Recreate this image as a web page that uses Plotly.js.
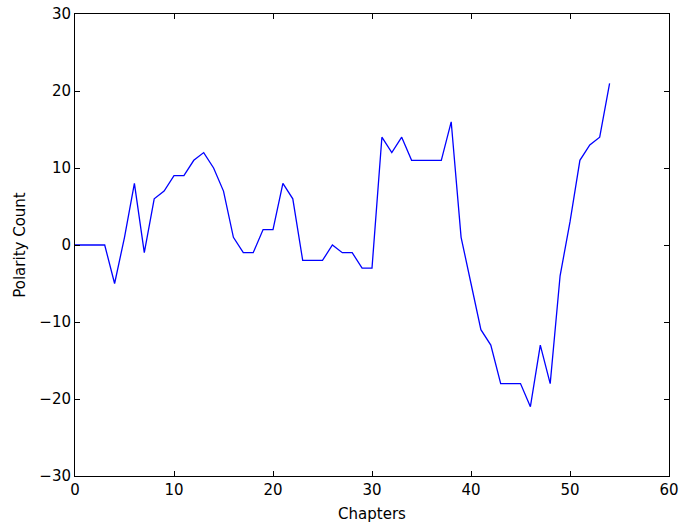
<!DOCTYPE html>
<html>
<head>
<meta charset="utf-8">
<script src="https://cdn.plot.ly/plotly-3.0.1.min.js"></script>
<style>html,body{margin:0;padding:0;background:#fff;}#chart{width:680px;height:525px;}</style>
</head>
<body>
<div id="chart"></div>
<script>
const chapters = [0,1,2,3,4,5,6,7,8,9,10,11,12,13,14,15,16,17,18,19,20,21,22,23,24,25,26,27,28,29,30,31,32,33,34,35,36,37,38,39,40,41,42,43,44,45,46,47,48,49,50,51,52,53,54];
const polarity = [0,0,0,0,-5,1,8,-1,6,7,9,9,11,12,10,7,1,-1,-1,2,2,8,6,-2,-2,-2,0,-1,-1,-3,-3,14,12,14,11,11,11,11,16,1,-5,-11,-13,-18,-18,-18,-21,-13,-18,-4,3,11,13,14,21];
const xTicks = [0,10,20,30,40,50,60];
const yTicks = [-30,-20,-10,0,10,20,30];
const yTickText = ['\u221230','\u221220','\u221210','0','10','20','30'];

const axisCommon = {
  showgrid:false, zeroline:false, showline:true, mirror:'ticks',
  linecolor:'#000', linewidth:1, ticks:'inside', ticklen:5, tickcolor:'#000', tickwidth:1,
  tickfont:{family:'DejaVu Sans', size:15, color:'#000'}
};
Plotly.newPlot('chart', [{
  x: chapters, y: polarity, type:'scatter', mode:'lines',
  line:{color:'#0000ff', width:1.3}
}], {
  width:680, height:525,
  margin:{l:75, r:11, t:14, b:49},
  paper_bgcolor:'#fff', plot_bgcolor:'#fff',
  showlegend:false,
  xaxis: Object.assign({}, axisCommon, {range:[0,60], tickvals:xTicks, ticktext:xTicks.map(String),
    title:{text:'Chapters', font:{family:'DejaVu Sans', size:15, color:'#000'}, standoff:10}}),
  yaxis: Object.assign({}, axisCommon, {range:[-30,30], tickvals:yTicks, ticktext:yTickText,
    title:{text:'Polarity Count', font:{family:'DejaVu Sans', size:15, color:'#000'}, standoff:10}})
}, {displayModeBar:false, staticPlot:true});
</script>
</body>
</html>
